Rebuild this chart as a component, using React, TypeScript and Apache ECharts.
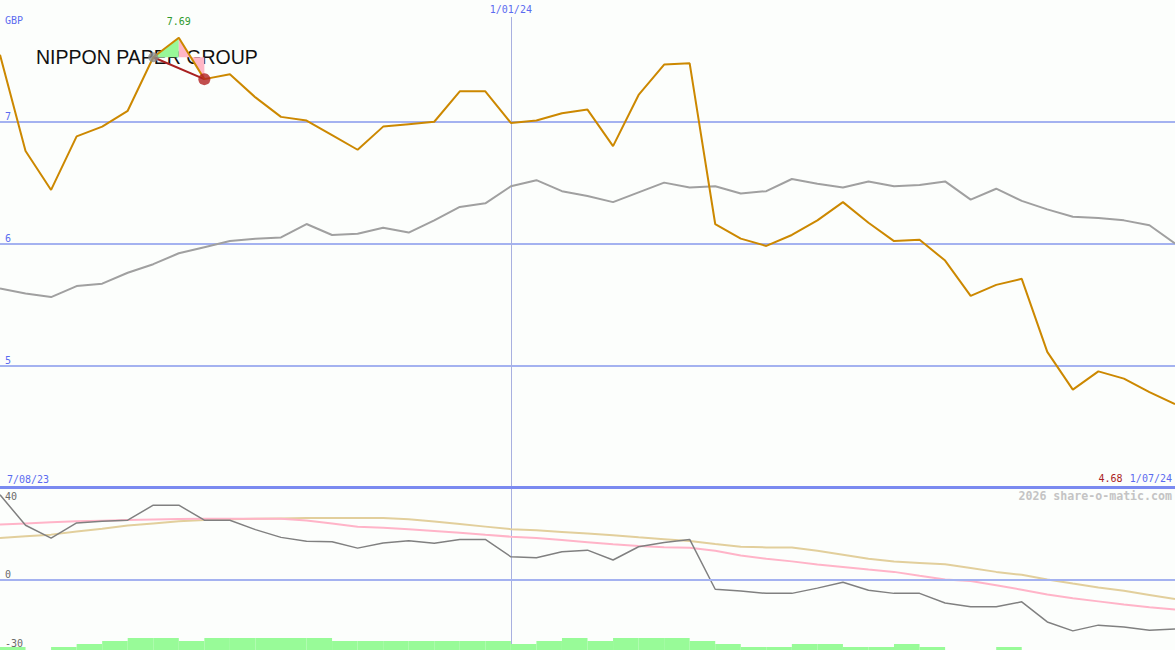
import React, { useEffect, useRef } from "react";
import * as echarts from "echarts";

// ---------- data ----------
const chartTitle = "NIPPON PAPER GROUP";
const currency = "GBP";
const watermark = "2026 share-o-matic.com";

const dates = [
  "7/08/23", "21/08/23", "28/08/23", "4/09/23", "11/09/23", "18/09/23", "25/09/23", "2/10/23",
  "9/10/23", "16/10/23", "23/10/23", "30/10/23", "6/11/23", "13/11/23", "20/11/23", "27/11/23",
  "4/12/23", "11/12/23", "18/12/23", "25/12/23", "1/01/24", "8/01/24", "15/01/24", "22/01/24",
  "29/01/24", "5/02/24", "12/02/24", "19/02/24", "26/02/24", "4/03/24", "11/03/24", "18/03/24",
  "25/03/24", "1/04/24", "8/04/24", "15/04/24", "22/04/24", "29/04/24", "6/05/24", "13/05/24",
  "20/05/24", "27/05/24", "3/06/24", "10/06/24", "17/06/24", "24/06/24", "1/07/24",
];

const price = [
  7.55, 6.76, 6.44, 6.88, 6.96, 7.09, 7.53, 7.69, 7.35, 7.39,
  7.2, 7.04, 7.01, 6.89, 6.77, 6.96, 6.98, 7.0, 7.25, 7.25,
  6.99, 7.01, 7.07, 7.1, 6.8, 7.22, 7.47, 7.48, 6.16, 6.04,
  5.98, 6.07, 6.19, 6.34, 6.17, 6.02, 6.03, 5.86, 5.57, 5.66,
  5.71, 5.11, 4.8, 4.95, 4.89, 4.78, 4.68,
];

const average = [
  5.63, 5.59, 5.56, 5.65, 5.67, 5.76, 5.83, 5.92, 5.97, 6.02,
  6.04, 6.05, 6.16, 6.07, 6.08, 6.13, 6.09, 6.19, 6.3, 6.33,
  6.47, 6.52, 6.43, 6.39, 6.34, 6.42, 6.5, 6.46, 6.47, 6.41,
  6.43, 6.53, 6.49, 6.46, 6.51, 6.47, 6.48, 6.51, 6.36, 6.45,
  6.35, 6.28, 6.22, 6.21, 6.19, 6.15, 6.0,
];

const oscillator = [
  37, 23.7, 18.1, 24.7, 25.4, 25.9, 32.5, 32.5, 25.9, 25.9,
  21.8, 18.4, 16.7, 16.5, 13.7, 15.9, 16.9, 15.8, 17.5, 17.5,
  9.9, 9.5, 12.1, 12.8, 8.5, 14.3, 16.2, 17.5, -4.3, -5.1,
  -6.1, -6.1, -3.8, -1.2, -4.7, -6.1, -6.1, -10.3, -12, -12,
  -9.8, -18.6, -22.5, -20, -20.8, -22.2, -21.7,
];

const signalPink = [
  24, 24.5, 25, 25.4, 25.7, 26, 26.2, 26.4, 26.6, 26.6,
  26.6, 26.6, 25.8, 24.5, 23, 22.6, 22, 21.2, 20.4, 19.5,
  18.7, 18.1, 17.2, 16.3, 15.4, 14.6, 14.1, 13.9, 12.5, 10.5,
  9, 7.9, 6.5, 5.4, 4.3, 3.3, 1.6, 0, -0.7, -2.5,
  -4.5, -6.6, -8.2, -9.6, -11, -12.2, -13.2,
];

const signalTan = [
  18.1, 18.9, 19.6, 21, 22.2, 23.6, 24.5, 25.4, 26, 26.3,
  26.5, 26.7, 26.9, 26.9, 26.9, 26.9, 26.3, 25.3, 24.2, 23.1,
  22, 21.5, 20.8, 20.1, 19.3, 18.4, 17.6, 16.8, 15.5, 14.3,
  14, 14, 12.5, 10.8, 9, 7.8, 7.2, 6.6, 5, 3.3,
  2, 0, -1.8, -3.5, -5, -6.8, -8.6,
];

// relative volume level for each interval between two points (46 intervals)
const volumeLevel = [
  1, 0, 1, 2, 3, 4, 4, 3, 4, 4,
  4, 4, 4, 3, 3, 3, 3, 3, 3, 3,
  2, 3, 4, 3, 4, 4, 4, 3, 2, 1,
  1, 2, 2, 1, 1, 2, 1, 0, 0, 1,
  0, 0, 0, 0, 0, 0,
];

const priceTicks = [5, 6, 7];
const lowerTicks = [40, 0, -30];
const markedDates = ["7/08/23", "1/01/24", "1/07/24"];
const swingIdx = [6, 7, 8]; // start, peak, end of the highlighted swing

// ---------- styles ----------
const BG = "#fcfefc";
const BLUE = "#5b6cf0";
const GRID_BLUE = "#a4b2f0";
const MONO = "DejaVu Sans Mono, monospace";

export default function App() {
  const ref = useRef<HTMLDivElement>(null);

  useEffect(() => {
    if (!ref.current) return;
    const chart = echarts.init(ref.current, null, { renderer: "svg" });
    const n = dates.length;
    const lastPrice = price[n - 1].toFixed(2);
    const midIdx = dates.indexOf(markedDates[1]);
    const [s0, s1, s2] = swingIdx;

    const option: any = {
      animation: false,
      backgroundColor: BG,
      textStyle: { fontFamily: MONO },
      title: {
        text: chartTitle,
        left: 36,
        top: 47,
        padding: 0,
        z: 0,
        textStyle: {
          fontFamily: "Liberation Sans, Arial, sans-serif",
          fontSize: 19.5,
          fontWeight: "normal",
          color: "#111111",
        },
      },
      grid: [
        { left: 0, right: 0, top: 0, height: 487 },
        { left: 0, right: 0, top: 488, height: 160 },
        { left: 0, right: 0, top: 638, height: 12 },
      ],
      xAxis: [
        {
          gridIndex: 0,
          type: "category",
          data: dates,
          boundaryGap: false,
          position: "bottom",
          axisLine: { show: true, lineStyle: { color: "#7a8af0", width: 3 } },
          axisTick: { show: false },
          splitLine: { show: false },
          axisLabel: {
            inside: true,
            margin: 3,
            interval: (i: number) => i === 0 || i === n - 1,
            alignMinLabel: "left",
            alignMaxLabel: "right",
            formatter: (v: string, i: number) =>
              i === n - 1 ? `{r|${lastPrice}} {b|${v}}` : `{b|${v}}`,
            rich: {
              r: { color: "#aa2222", fontFamily: MONO, fontSize: 10 },
              b: { color: BLUE, fontFamily: MONO, fontSize: 10 },
            },
            padding: [0, 3, 0, 7],
          },
        },
        {
          gridIndex: 0,
          type: "category",
          data: dates,
          boundaryGap: false,
          position: "top",
          axisLine: { show: false },
          axisTick: { show: false },
          splitLine: {
            show: true,
            interval: (i: number) => i === midIdx,
            lineStyle: { color: "#a8b0e0", width: 1 },
          },
          axisLabel: {
            inside: true,
            margin: 0,
            interval: (i: number) => i === midIdx,
            color: BLUE,
            fontFamily: MONO,
            fontSize: 10,
            backgroundColor: BG,
            padding: [4, 2, 3, 2],
          },
        },
        {
          gridIndex: 1,
          type: "category",
          data: dates,
          boundaryGap: false,
          axisLine: { show: false },
          axisTick: { show: false },
          axisLabel: { show: false },
          splitLine: {
            show: true,
            interval: (i: number) => i === midIdx,
            lineStyle: { color: "#a8b0e0", width: 1 },
          },
        },
        {
          gridIndex: 2,
          type: "category",
          data: dates.slice(0, n - 1),
          boundaryGap: true,
          show: false,
        },
      ],
      yAxis: [
        {
          gridIndex: 0,
          type: "value",
          min: 4,
          max: 8,
          interval: 1,
          name: currency,
          nameLocation: "end",
          nameGap: -20,
          nameTextStyle: {
            color: BLUE,
            fontFamily: MONO,
            fontSize: 10,
            align: "left",
            verticalAlign: "middle",
            padding: [0, 0, 0, 5],
          },
          axisLine: { show: false },
          axisTick: { show: false },
          axisLabel: {
            inside: true,
            margin: 5,
            verticalAlign: "bottom",
            color: BLUE,
            fontFamily: MONO,
            fontSize: 10,
            formatter: (v: number) => (priceTicks.includes(v) ? String(v) : ""),
          },
          splitLine: {
            show: true,
            showMinLine: false,
            showMaxLine: false,
            lineStyle: { color: GRID_BLUE, width: 2 },
          },
        },
        {
          gridIndex: 1,
          type: "value",
          min: -30,
          max: 40,
          interval: 10,
          position: "left",
          axisLine: { show: false },
          axisTick: { show: false },
          splitLine: { show: false },
          axisLabel: {
            inside: true,
            margin: 5,
            verticalAlign: "bottom",
            color: "#6a6a6a",
            fontFamily: MONO,
            fontSize: 10,
            formatter: (v: number) => (v !== 40 && lowerTicks.includes(v) ? String(v) : ""),
          },
        },
        {
          gridIndex: 1,
          type: "value",
          min: -30,
          max: 40,
          interval: 10,
          position: "left",
          axisLine: { show: false },
          axisTick: { show: false },
          splitLine: { show: false },
          axisLabel: {
            inside: true,
            margin: 5,
            verticalAlign: "top",
            padding: [3, 0, 0, 0],
            color: "#6a6a6a",
            fontFamily: MONO,
            fontSize: 10,
            formatter: (v: number) => (v === 40 && lowerTicks.includes(v) ? String(v) : ""),
          },
        },
        { gridIndex: 2, type: "value", min: 0, max: 4, show: false },
      ],
      graphic: [
        {
          type: "text",
          right: 3,
          top: 490,
          z: 0,
          style: {
            text: watermark,
            fill: "#c4c4c4",
            font: `bold 11.6px ${MONO}`,
          },
        },
      ],
      series: [
        {
          type: "custom",
          xAxisIndex: 0,
          yAxisIndex: 0,
          z: 1,
          silent: true,
          encode: { x: [0, 2, 4], y: [1, 3, 5] },
          data: [[s0, price[s0], s1, price[s1], s2, price[s2]]],
          renderItem: (_p: any, api: any) => {
            const a = api.coord([api.value(0), api.value(1)]);
            const b = api.coord([api.value(2), api.value(3)]);
            const c = api.coord([api.value(4), api.value(5)]);
            const bBase = api.coord([api.value(2), api.value(1)]);
            const cBase = api.coord([api.value(4), api.value(1)]);
            return {
              type: "group",
              children: [
                { type: "polygon", shape: { points: [a, b, bBase] }, style: { fill: "#98f898" } },
                { type: "polygon", shape: { points: [b, bBase, cBase, c] }, style: { fill: "#ffb6c6" } },
                {
                  type: "line",
                  shape: { x1: a[0], y1: a[1], x2: c[0], y2: c[1] },
                  style: { stroke: "#a82020", lineWidth: 2 },
                },
              ],
            };
          },
        },
        {
          type: "line",
          xAxisIndex: 0,
          yAxisIndex: 0,
          data: average,
          symbol: "none",
          z: 2,
          lineStyle: { color: "#a0a0a0", width: 2 },
        },
        {
          type: "line",
          xAxisIndex: 0,
          yAxisIndex: 0,
          data: price,
          symbol: "none",
          z: 3,
          lineStyle: { color: "#cc8800", width: 2 },
          markPoint: {
            symbol: "circle",
            symbolSize: 0,
            silent: true,
            data: [{ type: "max" }],
            label: {
              show: true,
              position: "top",
              distance: 11,
              color: "#2f9a2f",
              fontFamily: MONO,
              fontSize: 10,
              formatter: (p: any) => Number(p.value).toFixed(2),
            },
          },
        },
        {
          type: "scatter",
          xAxisIndex: 0,
          yAxisIndex: 0,
          z: 4,
          silent: true,
          data: [
            { value: [s0, price[s0]], symbolSize: 10, itemStyle: { color: "#8c8c8c" } },
            { value: [s2, price[s2]], symbolSize: 12, itemStyle: { color: "#b22222" } },
          ],
        },
        {
          type: "line",
          xAxisIndex: 2,
          yAxisIndex: 1,
          data: signalTan,
          symbol: "none",
          z: 2,
          lineStyle: { color: "#e2cf9c", width: 2 },
        },
        {
          type: "line",
          xAxisIndex: 2,
          yAxisIndex: 1,
          data: signalPink,
          symbol: "none",
          z: 3,
          lineStyle: { color: "#ffb4c8", width: 2 },
        },
        {
          type: "line",
          xAxisIndex: 2,
          yAxisIndex: 1,
          data: oscillator,
          symbol: "none",
          z: 4,
          lineStyle: { color: "#808080", width: 1.5 },
          markLine: {
            silent: true,
            symbol: "none",
            label: { show: false },
            lineStyle: { color: GRID_BLUE, width: 2, type: "solid" },
            data: [{ yAxis: 0 }],
          },
        },
        {
          type: "bar",
          xAxisIndex: 3,
          yAxisIndex: 3,
          data: volumeLevel,
          barWidth: "100%",
          barCategoryGap: 0,
          z: 5,
          silent: true,
          itemStyle: { color: "#98fb98" },
        },
      ],
    };

    chart.setOption(option);
    return () => chart.dispose();
  }, []);

  return (
    <div
      ref={ref}
      style={{ position: "absolute", left: 0, top: 0, width: 1175, height: 650, background: BG }}
    />
  );
}
